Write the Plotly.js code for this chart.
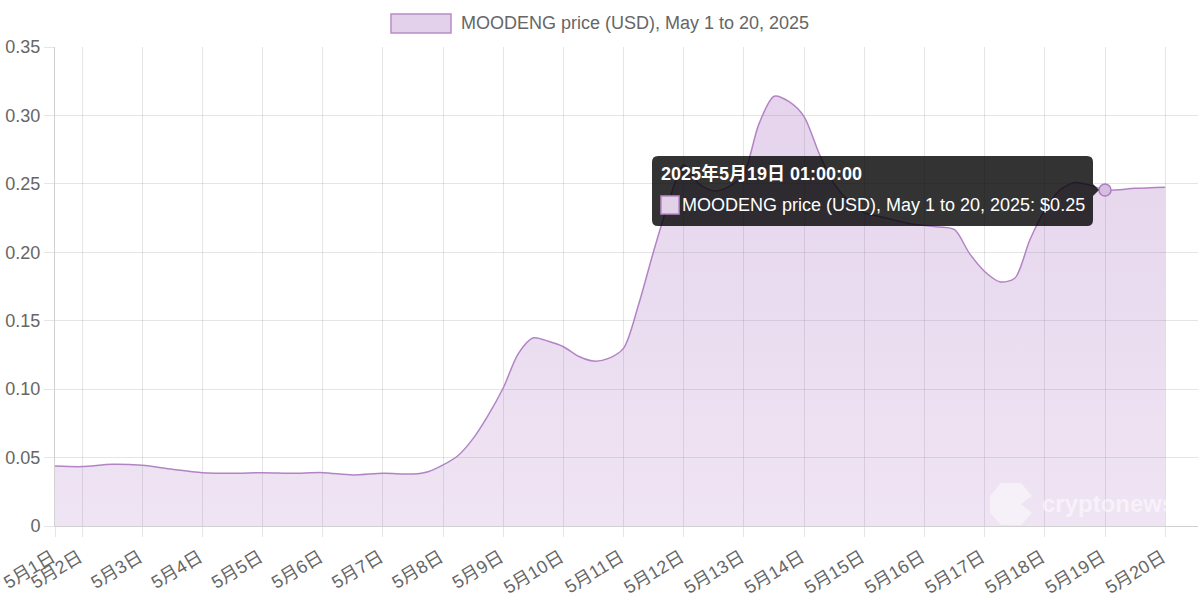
<!DOCTYPE html>
<html>
<head>
<meta charset="utf-8">
<script src="https://cdn.plot.ly/plotly-3.0.1.min.js"></script>
<style>
html,body{margin:0;padding:0;background:#fff;}
#chart{width:1200px;height:600px;}
</style>
</head>
<body>
<div id="chart"></div>
<script>
// ---- data ----
const seriesName = 'MOODENG price (USD), May 1 to 20, 2025';
const dates = [
  '2025-05-01 13:12','2025-05-02 00:00','2025-05-02 12:00','2025-05-03 00:00','2025-05-03 12:00',
  '2025-05-04 00:00','2025-05-04 12:00','2025-05-05 00:00','2025-05-05 12:00','2025-05-06 00:00',
  '2025-05-06 12:00','2025-05-07 00:00','2025-05-07 12:00','2025-05-07 18:00','2025-05-08 00:00',
  '2025-05-08 06:00','2025-05-08 12:00','2025-05-08 18:00','2025-05-09 00:00','2025-05-09 06:00',
  '2025-05-09 12:00','2025-05-09 18:00','2025-05-10 00:00','2025-05-10 06:00','2025-05-10 12:00',
  '2025-05-10 18:00','2025-05-11 00:00','2025-05-11 06:00','2025-05-11 12:00','2025-05-11 18:00',
  '2025-05-12 00:00','2025-05-12 06:00','2025-05-12 12:00','2025-05-12 18:00','2025-05-13 00:00',
  '2025-05-13 06:00','2025-05-13 12:00','2025-05-13 18:00','2025-05-14 00:00','2025-05-14 06:00',
  '2025-05-14 12:00','2025-05-14 18:00','2025-05-15 00:00','2025-05-15 06:00','2025-05-15 12:00',
  '2025-05-15 18:00','2025-05-16 00:00','2025-05-16 06:00','2025-05-16 12:00','2025-05-16 18:00',
  '2025-05-17 00:00','2025-05-17 06:00','2025-05-17 12:00','2025-05-17 18:00','2025-05-18 00:00',
  '2025-05-18 06:00','2025-05-18 12:00','2025-05-18 18:00','2025-05-19 00:00','2025-05-19 12:00',
  '2025-05-20 00:00'
];
const prices = [
  0.0438,0.0434,0.0451,0.0443,0.0414,
  0.0390,0.0385,0.0390,0.0385,0.0390,
  0.0373,0.0385,0.0380,0.0397,0.0446,
  0.0515,0.0640,0.0810,0.1010,0.1260,
  0.1375,0.1350,0.1310,0.1240,0.1205,
  0.1225,0.1300,0.1620,0.2010,0.2370,
  0.2640,0.2500,0.2448,0.2480,0.2580,
  0.2940,0.3140,0.3100,0.2990,0.2720,
  0.2500,0.2370,0.2290,0.2262,0.2235,
  0.2210,0.2195,0.2185,0.2165,0.1990,
  0.1860,0.1785,0.1810,0.2090,0.2310,
  0.2455,0.2510,0.2490,0.2455,0.2467,
  0.2475
];
const tickDates = ['2025-05-01 13:12','2025-05-02','2025-05-03','2025-05-04','2025-05-05','2025-05-06',
  '2025-05-07','2025-05-08','2025-05-09','2025-05-10','2025-05-11','2025-05-12','2025-05-13',
  '2025-05-14','2025-05-15','2025-05-16','2025-05-17','2025-05-18','2025-05-19','2025-05-20'];
const tickLabels = ['5月1日','5月2日','5月3日','5月4日','5月5日','5月6日','5月7日','5月8日','5月9日',
  '5月10日','5月11日','5月12日','5月13日','5月14日','5月15日','5月16日','5月17日','5月18日','5月19日','5月20日'];
const yTickValues = [0,0.05,0.10,0.15,0.20,0.25,0.30,0.35];
const yTickLabels = ['0','0.05','0.10','0.15','0.20','0.25','0.30','0.35'];
const hoverDate = '2025-05-19 00:00';
const tooltipTitle = '2025年5月19日 01:00:00';
const watermarkText = 'cryptonews';

// ---- chart ----
const FONT = 'Liberation Sans, Arial, "Noto Sans CJK SC", sans-serif';
const FS = 18;
const hi = dates.indexOf(hoverDate);
const hoverValue = prices[hi];

// pixel -> paper helpers (plot area: x 55..1198, y 47..526)
const L = 55, R = 1198, T = 47, B = 526;
const px = X => (X - L) / (R - L);
const py = Y => (B - Y) / (B - T);

function roundRect(x0, y0, x1, y1, r) {
  const rx = r / (R - L), ry = r / (B - T);
  const a = px(x0), b = px(x1), top = py(y0), bot = py(y1);
  return `M${a+rx},${top} L${b-rx},${top} Q${b},${top} ${b},${top-ry} L${b},${bot+ry} Q${b},${bot} ${b-rx},${bot} ` +
         `L${a+rx},${bot} Q${a},${bot} ${a},${bot+ry} L${a},${top-ry} Q${a},${top} ${a+rx},${top} Z`;
}

const traces = [
  {
    type: 'scatter', mode: 'lines', x: dates, y: prices, name: seriesName,
    line: {color: '#b384c5', width: 1.5, shape: 'spline', smoothing: 0.8},
    fill: 'tozeroy', fillcolor: 'rgba(155,89,182,0.2)',
    fillgradient: {type: 'vertical', start: 0, stop: 0.32,
      colorscale: [[0, 'rgba(155,89,182,0.16)'], [1, 'rgba(155,89,182,0.26)']]},
    hoverinfo: 'skip', showlegend: false
  },
  {
    type: 'scatter', mode: 'markers', x: [dates[hi]], y: [hoverValue],
    marker: {size: 12, color: 'rgba(214,190,224,1)', line: {color: '#b07cc0', width: 1.5}},
    hoverinfo: 'skip', showlegend: false
  }
];

const grid = 'rgba(0,0,0,0.1)';
const layout = {
  width: 1200, height: 600,
  margin: {l: L, r: 1200 - R, t: T, b: 600 - B},
  paper_bgcolor: '#fff', plot_bgcolor: '#fff',
  font: {family: FONT, size: FS, color: '#666'},
  showlegend: false,
  xaxis: {
    type: 'date', range: ['2025-05-01 13:12', '2025-05-20 13:05'],
    tickmode: 'array', tickvals: tickDates, ticktext: tickLabels, tickangle: -31,
    ticklabelstandoff: 3, ticklabelshift: -3,
    showgrid: true, gridcolor: grid, gridwidth: 1,
    ticks: 'outside', ticklen: 10, tickcolor: grid, tickwidth: 1,
    showline: true, linecolor: 'rgba(0,0,0,0.18)', linewidth: 1,
    zeroline: false, tickfont: {family: FONT, size: FS, color: '#666'}
  },
  yaxis: {
    range: [0, 0.35], tickmode: 'array', tickvals: yTickValues, ticktext: yTickLabels,
    showgrid: true, gridcolor: grid, gridwidth: 1,
    ticks: 'outside', ticklen: 10, tickcolor: grid, tickwidth: 1,
    showline: true, linecolor: 'rgba(0,0,0,0.18)', linewidth: 1,
    zeroline: false, tickfont: {family: FONT, size: FS, color: '#666'}
  },
  shapes: [
    // legend swatch
    {type: 'rect', xref: 'paper', yref: 'paper', x0: px(391), x1: px(451), y0: py(14), y1: py(33),
     fillcolor: 'rgba(155,89,182,0.28)', line: {color: '#b98bc8', width: 1.5}},
    // watermark logo
    {type: 'path', xref: 'paper', yref: 'paper', layer: 'above',
     path: `M${px(1001)},${py(483)} L${px(1021)},${py(483)} L${px(1032)},${py(496)} L${px(1021)},${py(504)} L${px(1032)},${py(513)} L${px(1021)},${py(525)} L${px(1001)},${py(525)} L${px(990)},${py(513)} L${px(990)},${py(496)} Z`,
     fillcolor: 'rgba(255,255,255,0.45)', line: {width: 0}},
    // tooltip box
    {type: 'path', xref: 'paper', yref: 'paper', layer: 'above', path: roundRect(652, 156, 1093, 226, 6),
     fillcolor: 'rgba(0,0,0,0.8)', line: {width: 0}},
    // tooltip caret
    {type: 'path', xref: 'paper', yref: 'paper', layer: 'above',
     path: `M${px(1093)},${py(184)} L${px(1099)},${py(190)} L${px(1093)},${py(196)} Z`,
     fillcolor: 'rgba(0,0,0,0.8)', line: {width: 0}},
    // tooltip colour box
    {type: 'rect', xref: 'paper', yref: 'paper', layer: 'above', x0: px(661), x1: px(679), y0: py(196), y1: py(214),
     fillcolor: '#e1d2e7', line: {color: '#b98bc8', width: 1.5}}
  ],
  annotations: [
    {xref: 'paper', yref: 'paper', x: px(459), y: py(23.5), xanchor: 'left', yanchor: 'middle',
     text: seriesName, showarrow: false, font: {family: FONT, size: FS, color: '#666'}},
    {xref: 'paper', yref: 'paper', x: px(1040), y: py(503), xanchor: 'left', yanchor: 'middle',
     text: '<b>' + watermarkText + '</b>', showarrow: false,
     font: {family: FONT, size: 24, color: 'rgba(255,255,255,0.55)'}},
    {xref: 'paper', yref: 'paper', x: px(659), y: py(173), xanchor: 'left', yanchor: 'middle',
     text: '<b>' + tooltipTitle + '</b>', showarrow: false, font: {family: FONT, size: FS, color: '#fff'}},
    {xref: 'paper', yref: 'paper', x: px(680), y: py(205), xanchor: 'left', yanchor: 'middle',
     text: seriesName + ': $' + hoverValue.toFixed(2), showarrow: false, font: {family: FONT, size: FS, color: '#fff'}}
  ]
};

Plotly.newPlot('chart', traces, layout, {displayModeBar: false, staticPlot: true});
</script>
</body>
</html>
